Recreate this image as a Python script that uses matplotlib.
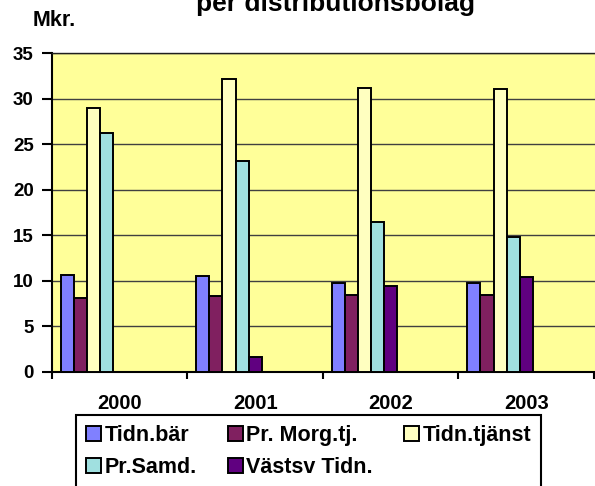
import numpy as np
import matplotlib
matplotlib.use("Agg")
import matplotlib.pyplot as plt

years = ["2000", "2001", "2002", "2003"]
series = ["Tidn.bär", "Pr. Morg.tj.", "Tidn.tjänst", "Pr.Samd.", "Västsv Tidn."]
tidn_bar = [10.6, 10.5, 9.8, 9.8]
pr_morg = [8.1, 8.4, 8.5, 8.5]
tidn_tjanst = [29.0, 32.2, 31.2, 31.1]
pr_samd = [26.3, 23.2, 16.5, 14.8]
vastsv = [0.0, 1.7, 9.4, 10.4]
colors = ["#8080FF", "#802060", "#FFFFC0", "#A0E0E0", "#600080"]

plt.rcParams['font.family'] = ['Liberation Sans', 'DejaVu Sans']
plt.rcParams['font.weight'] = 'bold'

fig = plt.figure(figsize=(5.95, 4.86), dpi=100)
ax = fig.add_axes([51.7 / 595, 1 - 372 / 486, 4.05 * 135.6 / 595, (372 - 53.3) / 486])
ax.set_facecolor("#FFFF99")

x = np.arange(len(years))
bw = 0.097
handles = []
for i, vals in enumerate([tidn_bar, pr_morg, tidn_tjanst, pr_samd, vastsv]):
    pos = x + 0.065 + bw * (i + 0.5)
    v = np.array(vals)
    mask = v > 0
    h = ax.bar(pos[mask], v[mask], width=bw, color=colors[i], edgecolor="black",
               linewidth=1.4, label=series[i], zorder=3)
    handles.append(h)

ax.set_xlim(0, 4.05)
ax.set_ylim(0, 35)
ax.set_yticks(range(0, 36, 5))
ax.yaxis.grid(True, color="#404040", linewidth=1.0, zorder=1)
ax.tick_params(axis="y", length=7, width=1.5, pad=6, labelsize=13.5)
for lab in ax.get_yticklabels():
    lab.set_fontweight("bold")

ax.set_xticks(range(0, 5))
ax.set_xticklabels([])
ax.tick_params(axis="x", which="major", length=5, width=1.5)
ax.set_xticks(x + 0.5, minor=True)
ax.set_xticklabels(years, minor=True, fontsize=14.5, fontweight="bold")
ax.tick_params(axis="x", which="minor", length=0, pad=16)

for s in ["left", "bottom"]:
    ax.spines[s].set_linewidth(1.5)
for s in ["top", "right"]:
    ax.spines[s].set_linewidth(1.0)
    ax.spines[s].set_color("#202020")

fig.text(335 / 595, 1 - 10.5 / 486, "per distributionsbolag", ha="center", va="baseline",
         fontsize=19, fontweight="bold")
fig.text(33 / 595, 1 - 26 / 486, "Mkr.", ha="left", va="baseline",
         fontsize=15.5, fontweight="bold")

order = [0, 3, 1, 4, 2]
leg = fig.legend([handles[k] for k in order], [series[k] for k in order], ncol=3,
                 loc="upper left", bbox_to_anchor=(76.5 / 595, 1 - 415 / 486, (541 - 76.5) / 595, 0),
                 mode="expand", prop={'weight': 'bold', 'size': 15.5},
                 frameon=True, fancybox=False, edgecolor="black", framealpha=1,
                 handlelength=0.7, handleheight=0.7, handletextpad=0.15,
                 labelspacing=0.54, borderpad=0.45, borderaxespad=0, columnspacing=1.0)
leg.get_frame().set_linewidth(1.5)

fig.savefig("out.png", dpi=100)
